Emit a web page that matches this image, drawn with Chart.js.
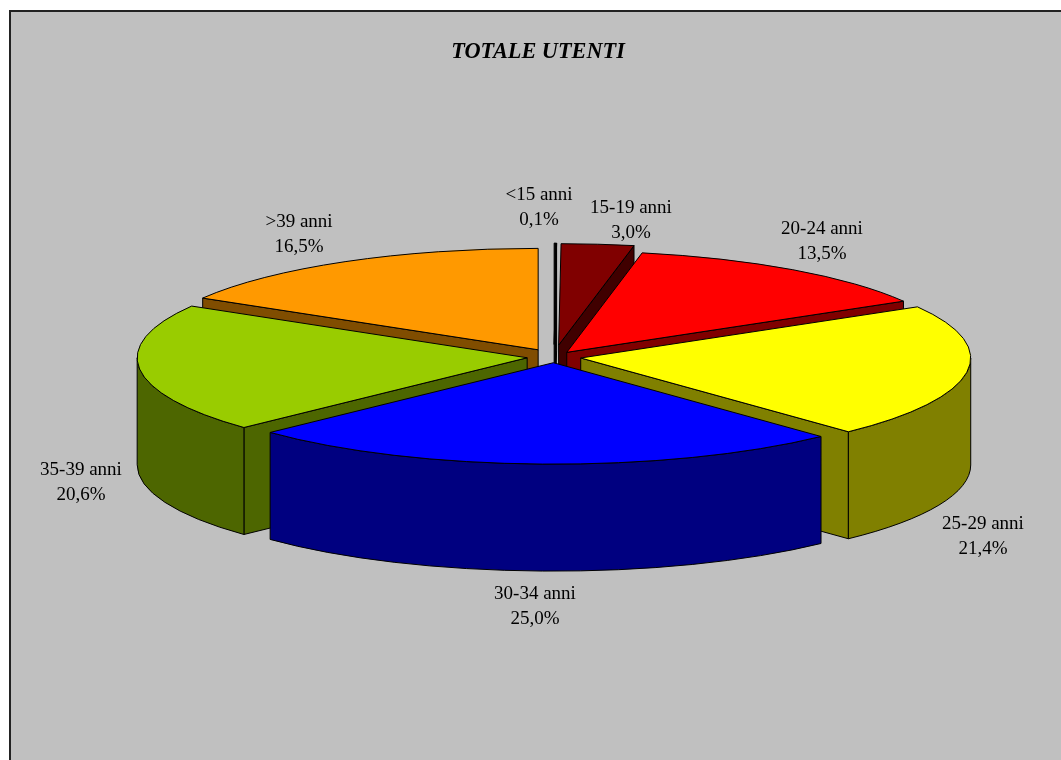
<!DOCTYPE html>
<html><head><meta charset="utf-8">
<style>html,body{margin:0;padding:0;background:#fff;overflow:hidden}canvas{display:block}</style>
<script src="https://cdn.jsdelivr.net/npm/chart.js@4"></script>
</head><body><canvas id="c" width="1061" height="760"></canvas>
<script>
const categories = ['<15 anni','15-19 anni','20-24 anni','25-29 anni','30-34 anni','35-39 anni','>39 anni'];
const shares = [0.1, 3.0, 13.5, 21.4, 25.0, 20.6, 16.5];
const topColors = ['#000000','#800000','#FF0000','#FFFF00','#0000FF','#99CC00','#FF9900'];
const wallColors = ['#000000','#400000','#800000','#808000','#000080','#4D6600','#804D00'];
const explode = [48, 46, 22, 27, 22, 27, 32];
const labelPos = [[539,195],[631,208],[822,229],[983,524],[535,594],[81,470],[299,222]];

const CX = 554, CY = 357, R = 390, K = 0.26, DEPTH = 107, LINE = 25;
const INK = '#000';

const fmt = v => v.toFixed(1).replace('.', ',') + '%';

const pie3d = {
  id: 'pie3d',
  beforeDraw(chart) {
    const c = chart.ctx;
    c.save();
    c.fillStyle = '#fff'; c.fillRect(0, 0, chart.width, chart.height);
    c.fillStyle = '#C0C0C0'; c.fillRect(10, 11, chart.width, chart.height);
    c.fillStyle = '#222';
    c.fillRect(9, 10, chart.width, 2);
    c.fillRect(9, 10, 2, chart.height);
    c.restore();
  },
  beforeDatasetDraw() { return false; },
  afterDatasetsDraw(chart) {
    const c = chart.ctx;
    const arcs = chart.getDatasetMeta(0).data;
    const info = arcs.map((arc, i) => {
      const p = arc.getProps(['x','y','startAngle','endAngle','outerRadius']);
      const mid = (p.startAngle + p.endAngle) / 2;
      return {
        i, arc, s: p.startAngle, e: p.endAngle, r: p.outerRadius, mid, px: p.x, py: p.y,
        ax: CX + Math.cos(mid) * explode[i],
        ay: CY + Math.sin(mid) * explode[i] * K
      };
    }).sort((a, b) => Math.sin(a.mid) - Math.sin(b.mid));

    const pt = (o, t) => [o.ax + o.r * Math.cos(t), o.ay + K * o.r * Math.sin(t)];
    const paint = (fill) => {
      c.fillStyle = fill; c.fill();
      c.strokeStyle = INK; c.lineWidth = 1; c.lineJoin = 'round'; c.stroke();
    };
    const radialWall = (o, t) => {
      const [x, y] = pt(o, t);
      c.beginPath();
      c.moveTo(o.ax, o.ay); c.lineTo(x, y);
      c.lineTo(x, y + DEPTH); c.lineTo(o.ax, o.ay + DEPTH);
      c.closePath();
      paint(wallColors[o.i]);
    };

    // side walls, back to front
    info.forEach(o => {
      if (Math.cos(o.s) < 0) radialWall(o, o.s);
      if (Math.cos(o.e) > 0) radialWall(o, o.e);
      const a = Math.max(o.s, 0), b = Math.min(o.e, Math.PI);
      if (b > a) {
        c.beginPath();
        c.ellipse(o.ax, o.ay, o.r, K * o.r, 0, a, b);
        c.ellipse(o.ax, o.ay + DEPTH, o.r, K * o.r, 0, b, a, true);
        c.closePath();
        paint(wallColors[o.i]);
      }
    });

    // top faces, drawn by the library's own arc elements
    info.forEach(o => {
      c.save();
      c.translate(o.ax, o.ay);
      c.scale(1, K);
      c.translate(-o.px, -o.py);
      o.arc.draw(c);
      c.restore();
      c.beginPath();
      c.moveTo(o.ax, o.ay);
      c.ellipse(o.ax, o.ay, o.r, K * o.r, 0, o.s, o.e);
      c.closePath();
      c.strokeStyle = INK; c.lineWidth = 1; c.lineJoin = 'round'; c.stroke();
    });

    // labels
    c.save();
    c.fillStyle = '#000';
    c.font = '19px "Liberation Serif"';
    c.textAlign = 'center'; c.textBaseline = 'middle';
    categories.forEach((name, i) => {
      const [x, y] = labelPos[i];
      c.fillText(name, x, y);
      c.fillText(fmt(shares[i]), x, y + LINE);
    });
    c.restore();
  }
};

new Chart(document.getElementById('c'), {
  type: 'pie',
  data: {
    labels: categories,
    datasets: [{ data: shares, backgroundColor: topColors, borderWidth: 0 }]
  },
  options: {
    responsive: false,
    animation: false,
    radius: R,
    layout: { padding: { left: 15, right: 0, top: 39, bottom: 0 } },
    plugins: {
      legend: { display: false },
      tooltip: { enabled: false },
      title: {
        display: true,
        text: 'TOTALE UTENTI',
        color: '#000',
        font: { family: '"Liberation Serif"', size: 22.3, style: 'italic', weight: 'bold' },
        padding: { top: 0, bottom: 10 }
      }
    }
  },
  plugins: [pie3d]
});
</script></body></html>
